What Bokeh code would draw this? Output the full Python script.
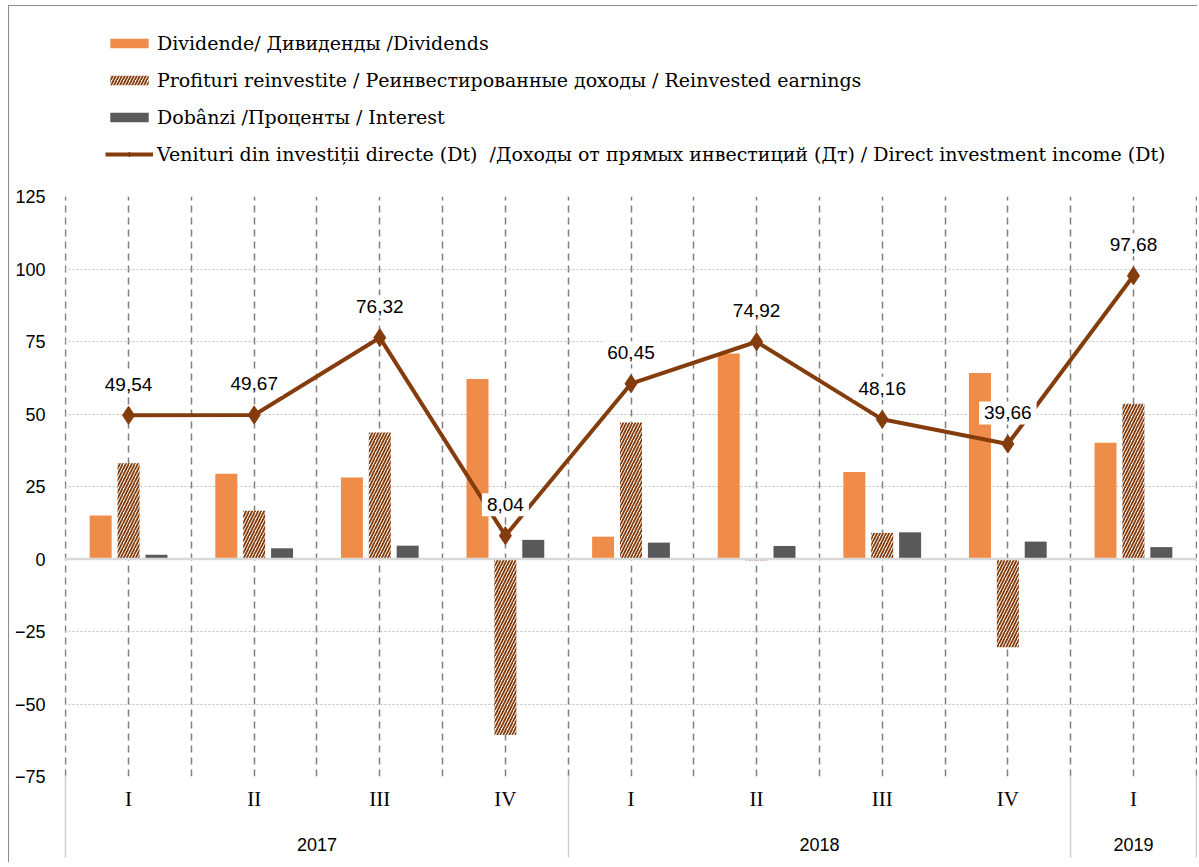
import numpy as np
from bokeh.plotting import figure
from bokeh.layouts import column
from bokeh.models import (ColumnDataSource, FixedTicker, LinearAxis, Legend,
                          LegendItem, Span, Range1d)
from bokeh.transform import dodge
from bokeh.core.properties import value
from bokeh.embed import file_html
from bokeh.resources import INLINE

# ---------------- data ----------------
quarters = ["I", "II", "III", "IV", "I", "II", "III", "IV", "I"]
years = ["2017", "2018", "2019"]
quarters_per_year = [4, 4, 1]
dividends = [15.0, 29.4, 28.1, 62.1, 7.7, 70.9, 30.0, 64.1, 40.1]
reinvested = [33.0, 16.6, 43.6, -60.7, 47.1, -0.5, 9.0, -30.4, 53.5]
interest = [1.5, 3.7, 4.6, 6.6, 5.65, 4.5, 9.2, 6.0, 4.1]
income = [49.54, 49.67, 76.32, 8.04, 60.45, 74.92, 48.16, 39.66, 97.68]
y_ticks = [-75, -50, -25, 0, 25, 50, 75, 100, 125]
series_names = [
    "Dividende/ Дивиденды /Dividends",
    "Profituri reinvestite / Реинвестированные доходы / Reinvested earnings",
    "Dobânzi /Проценты / Interest",
    "Venituri din investiții directe (Dt)  /Доходы от прямых инвестиций (Дт) / Direct investment income (Dt)",
]

# ---------------- derived ----------------
n = len(quarters)
xc = [i + 0.5 for i in range(n)]
bounds = [0.0] + [float(v) for v in np.cumsum(quarters_per_year)]
year_centers = [(bounds[i] + bounds[i + 1]) / 2 for i in range(len(years))]
labels = [f"{v:.2f}".replace(".", ",") for v in income]

src = ColumnDataSource(dict(x=xc, div=dividends, rei=reinvested,
                            intr=interest, inc=income, lab=labels))

SANS = "Liberation Sans"
SERIF = "Liberation Serif"
LEG_FONT = "DejaVu Serif"

C_DIV = "#F08C4A"
C_REI = "#843C0C"
C_INT = "#595959"
C_LINE = "#843C0C"
HATCH = dict(hatch_pattern="/", hatch_color=C_REI, hatch_scale=6,
             hatch_weight=1.8)

p = figure(frame_width=1133, frame_height=580,
           x_range=Range1d(-0.01, n + 0.01), y_range=Range1d(-75, 125),
           output_backend="svg", toolbar_location=None,
           min_border_left=55, min_border_right=0, min_border_top=8,
           min_border_bottom=0)
p.outline_line_color = None

# grids
p.xgrid.ticker = FixedTicker(ticks=[i * 0.5 for i in range(2 * n + 1)])
p.xgrid.grid_line_color = "#7f7f7f"
p.xgrid.grid_line_dash = "7 5"
p.xgrid.grid_line_width = 1.5
p.ygrid.ticker = FixedTicker(ticks=y_ticks)
p.ygrid.grid_line_color = "#c0c0c0"
p.ygrid.grid_line_dash = "2 2"
p.ygrid.grid_line_width = 1

# y axis
ya = p.yaxis[0]
ya.ticker = FixedTicker(ticks=y_ticks)
ya.axis_line_color = None
ya.major_tick_line_color = None
ya.minor_tick_line_color = None
ya.major_label_standoff = 13
ya.major_label_text_font = SANS
ya.major_label_text_font_size = "18px"
ya.major_label_text_color = "#000000"

# x axis: quarters
xa = p.xaxis[0]
xa.ticker = FixedTicker(ticks=xc, minor_ticks=[])
xa.major_label_overrides = {x: q for x, q in zip(xc, quarters)}
xa.axis_line_color = None
xa.major_tick_line_color = None
xa.minor_tick_line_color = None
xa.major_tick_out = 0
xa.major_label_standoff = 10
xa.major_label_text_font = SERIF
xa.major_label_text_font_size = "21px"
xa.major_label_text_color = "#000000"

# x axis: years
xb = LinearAxis(ticker=FixedTicker(ticks=year_centers, minor_ticks=[]))
xb.major_label_overrides = {x: y for x, y in zip(year_centers, years)}
xb.axis_line_color = None
xb.major_tick_line_color = None
xb.minor_tick_line_color = None
xb.major_tick_out = 0
xb.major_label_standoff = 24
xb.major_label_text_font = SANS
xb.major_label_text_font_size = "18px"
xb.major_label_text_color = "#000000"
p.add_layout(xb, "below")

# x axis: year separators (ticks reaching up to the plot)
xs = LinearAxis(ticker=FixedTicker(ticks=bounds, minor_ticks=[]))
xs.major_label_overrides = {b: " " for b in bounds}
xs.major_label_text_font_size = "2px"
xs.major_label_standoff = 0
xs.axis_line_color = None
xs.minor_tick_line_color = None
xs.major_tick_in = 78
xs.major_tick_out = 4
xs.major_tick_line_color = "#d0d0d0"
xs.major_tick_line_width = 1.5
p.add_layout(xs, "below")

# bars
W = 0.175
r1 = p.vbar(x=dodge("x", -0.222), top="div", width=W, source=src,
            fill_color=C_DIV, line_color=None)
r2 = p.vbar(x="x", top="rei", width=W, source=src, fill_color="white",
            line_color=None, **HATCH)
r3 = p.vbar(x=dodge("x", 0.222), top="intr", width=W, source=src,
            fill_color=C_INT, line_color=None)

p.add_layout(Span(location=0, dimension="width", line_color="#d9d9d9",
                  line_width=2.5))

# line
rl = p.line("x", "inc", source=src, line_color=C_LINE, line_width=4)
rs = p.scatter("x", "inc", source=src, marker="diamond", size=18,
               fill_color=C_LINE, line_color=C_LINE)

p.text("x", "inc", text="lab", source=src, y_offset=-31,
       text_align="center", text_baseline="middle",
       text_font=value(SANS), text_font_size="19px", text_color="#000000",
       background_fill_color="white", padding=5)

# ---------------- legend strip (same data, viewed outside its range) ----------------
lg = figure(width=1188, height=182, x_range=Range1d(100, 101),
            y_range=Range1d(1000, 1001), output_backend="svg",
            toolbar_location=None, min_border=0,
            x_axis_location=None, y_axis_location=None)
lg.outline_line_color = None
lg.grid.visible = False
l1 = lg.vbar(x="x", top="div", width=W, source=src, fill_color=C_DIV,
             line_color=None)
l2 = lg.vbar(x="x", top="rei", width=W, source=src, fill_color="white",
             line_color=None, **HATCH)
l3 = lg.vbar(x="x", top="intr", width=W, source=src, fill_color=C_INT,
             line_color=None)
l4 = lg.line(x="x", y="inc", source=src, line_color=C_LINE, line_width=4)
l5 = lg.scatter(x="x", y="inc", source=src, marker="diamond", size=10,
                fill_color=C_LINE, line_color=C_LINE)
legend = Legend(items=[
    LegendItem(label=series_names[0], renderers=[l1]),
    LegendItem(label=series_names[1], renderers=[l2]),
    LegendItem(label=series_names[2], renderers=[l3]),
    LegendItem(label=series_names[3], renderers=[l4, l5]),
], location=(41, 23), orientation="vertical", glyph_width=48,
    glyph_height=12, label_text_font=LEG_FONT, label_text_font_size="19px",
    label_text_color="#000000", spacing=15, padding=0, margin=0,
    border_line_color=None, background_fill_alpha=0, label_standoff=4,
    label_height=20)
lg.add_layout(legend)

layout = column(lg, p)
layout.styles = {"margin-left": "8px", "margin-top": "5px",
                 "border-left": "1px solid #8c8c8c",
                 "border-top": "1px solid #8c8c8c"}
open("out.html", "w").write(file_html(layout, INLINE))
